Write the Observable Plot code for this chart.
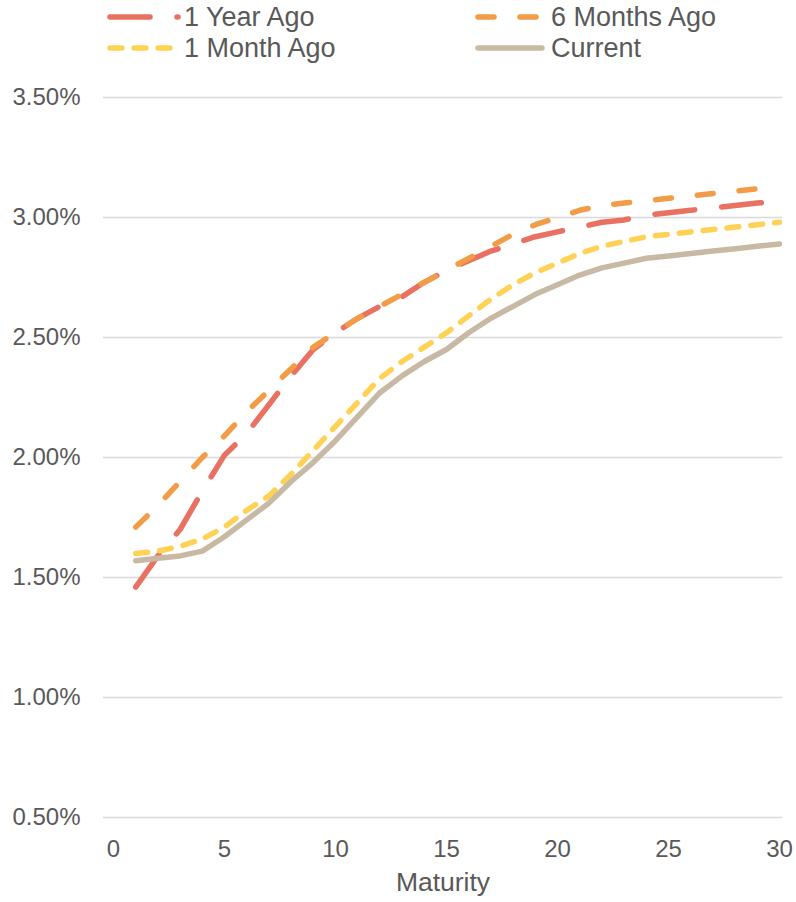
<!DOCTYPE html>
<html>
<head>
<meta charset="utf-8">
<script src="https://cdn.jsdelivr.net/npm/d3@7"></script>
<script src="https://cdn.jsdelivr.net/npm/@observablehq/plot@0.6"></script>
<style>
  html, body { margin: 0; padding: 0; background: #fff; }
  #wrap { width: 796px; font-family: "Liberation Sans", Arial, sans-serif; color: #595959; }
  #legend { position: relative; width: 796px; height: 64px; }
  #legend svg { position: absolute; left: 0; top: 0; overflow: visible; }
  #legend span { position: absolute; font-size: 27px; line-height: 30px; white-space: nowrap; }
  #chart svg { display: block; }
</style>
</head>
<body>
<div id="wrap">
  <div id="legend"></div>
  <div id="chart"></div>
</div>
<script>
// ---- Data ----
const maturity = [1,2,3,4,5,6,7,8,9,10,11,12,13,14,15,16,17,18,19,20,21,22,23,24,25,26,27,28,29,30];
const yearAgo   = [1.46,1.59,1.70,1.86,2.01,2.10,2.22,2.34,2.45,2.52,2.58,2.63,2.67,2.73,2.78,2.82,2.86,2.89,2.92,2.94,2.96,2.98,2.99,3.01,3.02,3.03,3.04,3.05,3.06,3.07];
const sixMonths = [1.71,1.80,1.90,2.00,2.09,2.19,2.28,2.37,2.46,2.52,2.58,2.63,2.68,2.73,2.78,2.83,2.88,2.93,2.97,3.00,3.03,3.05,3.06,3.07,3.08,3.09,3.10,3.11,3.12,3.13];
const monthAgo  = [1.60,1.61,1.63,1.66,1.71,1.78,1.84,1.93,2.03,2.13,2.23,2.33,2.40,2.46,2.52,2.59,2.66,2.72,2.77,2.81,2.85,2.88,2.90,2.92,2.93,2.94,2.95,2.96,2.97,2.98];
const current   = [1.57,1.58,1.59,1.61,1.67,1.74,1.81,1.90,1.98,2.07,2.17,2.27,2.34,2.40,2.45,2.52,2.58,2.63,2.68,2.72,2.76,2.79,2.81,2.83,2.84,2.85,2.86,2.87,2.88,2.89];

const seriesNames = ["1 Year Ago", "6 Months Ago", "1 Month Ago", "Current"];
const seriesValues = [yearAgo, sixMonths, monthAgo, current];
const seriesColors = ["#E97161", "#F39C47", "#FFD155", "#C8B9A4"];
const seriesDash = ["40,27", "16,26", "12,12", null];

const xTicks = [0, 5, 10, 15, 20, 25, 30];
const yTicks = [0.5, 1.0, 1.5, 2.0, 2.5, 3.0, 3.5];
const xLabel = "Maturity";

const strokeW = 5.5;

// ---- Legend ----
const legendPos = [
  {x: 110, y: 17, len: 68, tx: 184},
  {x: 478, y: 17, len: 66, tx: 551},
  {x: 110, y: 48, len: 62, tx: 184},
  {x: 478, y: 48, len: 64, tx: 551}
];
const legend = document.getElementById("legend");
seriesNames.forEach((name, i) => {
  const p = legendPos[i];
  const ns = "http://www.w3.org/2000/svg";
  const svg = document.createElementNS(ns, "svg");
  svg.setAttribute("width", 796);
  svg.setAttribute("height", 64);
  const ln = document.createElementNS(ns, "line");
  ln.setAttribute("x1", p.x); ln.setAttribute("x2", p.x + p.len);
  ln.setAttribute("y1", p.y); ln.setAttribute("y2", p.y);
  ln.setAttribute("stroke", seriesColors[i]);
  ln.setAttribute("stroke-width", strokeW);
  ln.setAttribute("stroke-linecap", "round");
  if (seriesDash[i]) ln.setAttribute("stroke-dasharray", seriesDash[i]);
  svg.appendChild(ln);
  legend.appendChild(svg);
  const sp = document.createElement("span");
  sp.textContent = name;
  sp.style.left = p.tx + "px";
  sp.style.top = (p.y - 15) + "px";
  legend.appendChild(sp);
});

// ---- Chart ----
const rows = [];
seriesNames.forEach((name, i) => {
  maturity.forEach((m, j) => rows.push({series: name, maturity: m, value: seriesValues[i][j]}));
});

const lineMarks = seriesNames.map((name, i) =>
  Plot.line(rows.filter(r => r.series === name), {
    x: "maturity", y: "value",
    stroke: seriesColors[i],
    strokeWidth: strokeW,
    strokeDasharray: seriesDash[i] || undefined,
    strokeLinecap: "round",
    strokeLinejoin: "round"
  })
);

const chart = Plot.plot({
  width: 796,
  height: 838,
  marginTop: 33,
  marginBottom: 85,
  marginLeft: 103,
  marginRight: 14,
  style: {fontFamily: "'Liberation Sans', Arial, sans-serif", fontSize: "24px", color: "#595959", background: "#fff", overflow: "visible"},
  x: {domain: [-0.45, 30.135], label: null},
  y: {domain: [0.5, 3.5], label: null},
  marks: [
    Plot.gridY(yTicks, {stroke: "#D9D9D9", strokeOpacity: 1, strokeWidth: 1.5}),
    Plot.axisY(yTicks, {tickSize: 0, tickPadding: 23, tickFormat: d => d.toFixed(2) + "%", fill: "#595959", fontSize: 24, label: null}),
    Plot.axisX(xTicks, {tickSize: 0, tickPadding: 22, fill: "#595959", fontSize: 24, label: null}),
    ...lineMarks,
    Plot.text([xLabel], {frameAnchor: "bottom", dy: 73, text: d => d, fill: "#595959", fontSize: 26.5})
  ]
});
document.getElementById("chart").appendChild(chart);
</script>
</body>
</html>
